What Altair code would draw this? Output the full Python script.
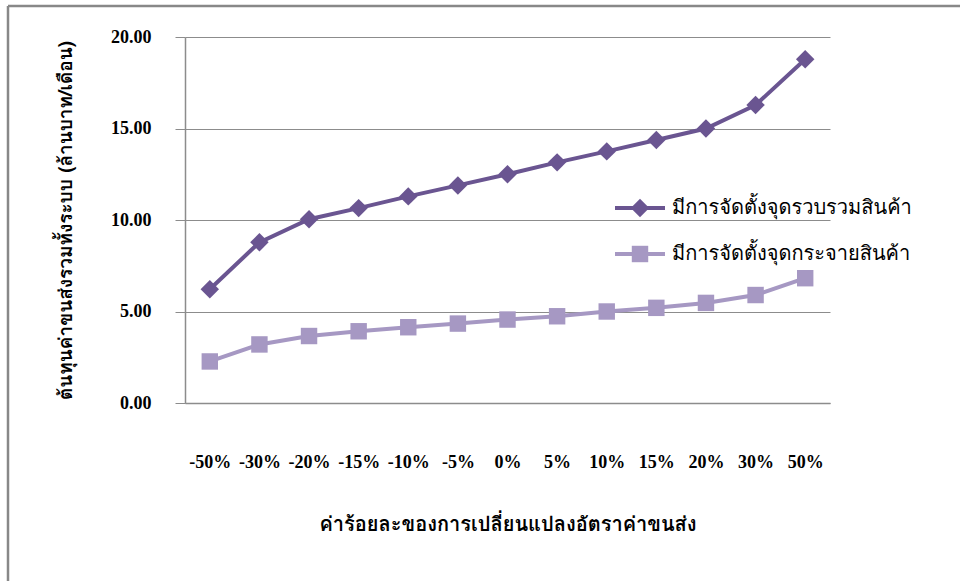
import altair as alt
import pandas as pd

categories = ["-50%", "-30%", "-20%", "-15%", "-10%", "-5%", "0%", "5%", "10%", "15%", "20%", "30%", "50%"]
consolidated = [6.22, 8.78, 10.04, 10.65, 11.29, 11.89, 12.50, 13.15, 13.75, 14.37, 15.00, 16.28, 18.78]
distributed = [2.27, 3.20, 3.66, 3.92, 4.14, 4.34, 4.56, 4.74, 5.00, 5.20, 5.47, 5.90, 6.82]
series_names = ["มีการจัดตั้งจุดรวบรวมสินค้า", "มีการจัดตั้งจุดกระจายสินค้า"]
colors = ["#6A5591", "#A698C3"]
shapes = ["diamond", "square"]
marker_sizes = [340, 270]
y_ticks = [0, 5, 10, 15, 20]

rows = []
for name, vals in zip(series_names, [consolidated, distributed]):
    for c, v in zip(categories, vals):
        rows.append({"change": c, "cost": v, "series": name})
df = pd.DataFrame(rows)

serif = "Liberation Serif"
thai = "Tahoma, Loma, Garuda, Noto Sans Thai, sans-serif"

x_enc = alt.X(
    "change:N",
    sort=categories,
    scale=alt.Scale(type="point", padding=0.5),
    axis=alt.Axis(
        title="ค่าร้อยละของการเปลี่ยนแปลงอัตราค่าขนส่ง",
        labelAngle=0,
        labelFont=serif,
        labelFontSize=18,
        labelFontWeight="bold",
        labelColor="black",
        labelPadding=50,
        labelOverlap=False,
        ticks=False,
        domainColor="#8c8c8c",
        domainWidth=1.5,
        titleFont=thai,
        titleFontSize=20,
        titleFontWeight="bold",
        titleColor="black",
        titleY=121,
        titleBaseline="middle",
        grid=False,
    ),
)
y_enc = alt.Y(
    "cost:Q",
    scale=alt.Scale(domain=[0, 20], nice=False),
    axis=alt.Axis(
        title="ต้นทุนค่าขนส่งรวมทั้งระบบ (ล้านบาท/เดือน)",
        values=y_ticks,
        format=".2f",
        labelFont=serif,
        labelFontSize=18,
        labelFontWeight="bold",
        labelColor="black",
        labelPadding=24,
        tickSize=10,
        tickColor="#8c8c8c",
        domainColor="#8c8c8c",
        domainWidth=1.5,
        gridColor="#8c8c8c",
        gridWidth=1,
        titleFont=thai,
        titleFontSize=19,
        titleFontWeight="bold",
        titleColor="black",
        titleX=-120,
        titleY=183,
        titleAlign="center",
        titleBaseline="middle",
    ),
)

color_scale = alt.Scale(domain=series_names, range=colors)

lines = alt.Chart(df).mark_line(strokeWidth=4).encode(
    x=x_enc, y=y_enc,
    color=alt.Color("series:N", scale=color_scale, legend=None),
)

layers = [lines]
for i, name in enumerate(series_names):
    layers.append(
        alt.Chart(df[df["series"] == name]).mark_point(
            filled=True, opacity=1, shape=shapes[i], size=marker_sizes[i], color=colors[i]
        ).encode(x=x_enc, y=y_enc)
    )

# manual legend (decoration placed in pixel space)
legend_layers = []
for i, name in enumerate(series_names):
    ly = 171 + 46 * i
    one = alt.Data(values=[{"label": name}])
    legend_layers.append(
        alt.Chart(one).mark_rule(color=colors[i], strokeWidth=4).encode(
            x=alt.value(430), x2=alt.value(480), y=alt.value(ly)
        )
    )
    legend_layers.append(
        alt.Chart(one).mark_point(
            filled=True, opacity=1, shape=shapes[i], size=marker_sizes[i], color=colors[i]
        ).encode(x=alt.value(455), y=alt.value(ly))
    )
    legend_layers.append(
        alt.Chart(one).mark_text(
            align="left", baseline="middle", font=thai, fontSize=20, color="black"
        ).encode(x=alt.value(487), y=alt.value(ly), text="label:N")
    )

border_top = alt.Chart(alt.Data(values=[{"b": 1}])).mark_rule(color="#888888", strokeWidth=2.5).encode(
    x=alt.value(-177), x2=alt.value(775), y=alt.value(-31)
)
border_left = alt.Chart(alt.Data(values=[{"b": 1}])).mark_rule(color="#888888", strokeWidth=2.5).encode(
    x=alt.value(-177), y=alt.value(-31), y2=alt.value(544)
)

chart = alt.layer(border_top, border_left, *layers, *legend_layers).properties(
    width=645,
    height=366,
    autosize=alt.AutoSizeParams(type="none"),
    padding={"left": 185, "top": 37, "right": 130, "bottom": 178},
    background="white",
).configure_view(stroke=None)

chart.save("out.html", embed_options={"renderer": "svg", "actions": False})
